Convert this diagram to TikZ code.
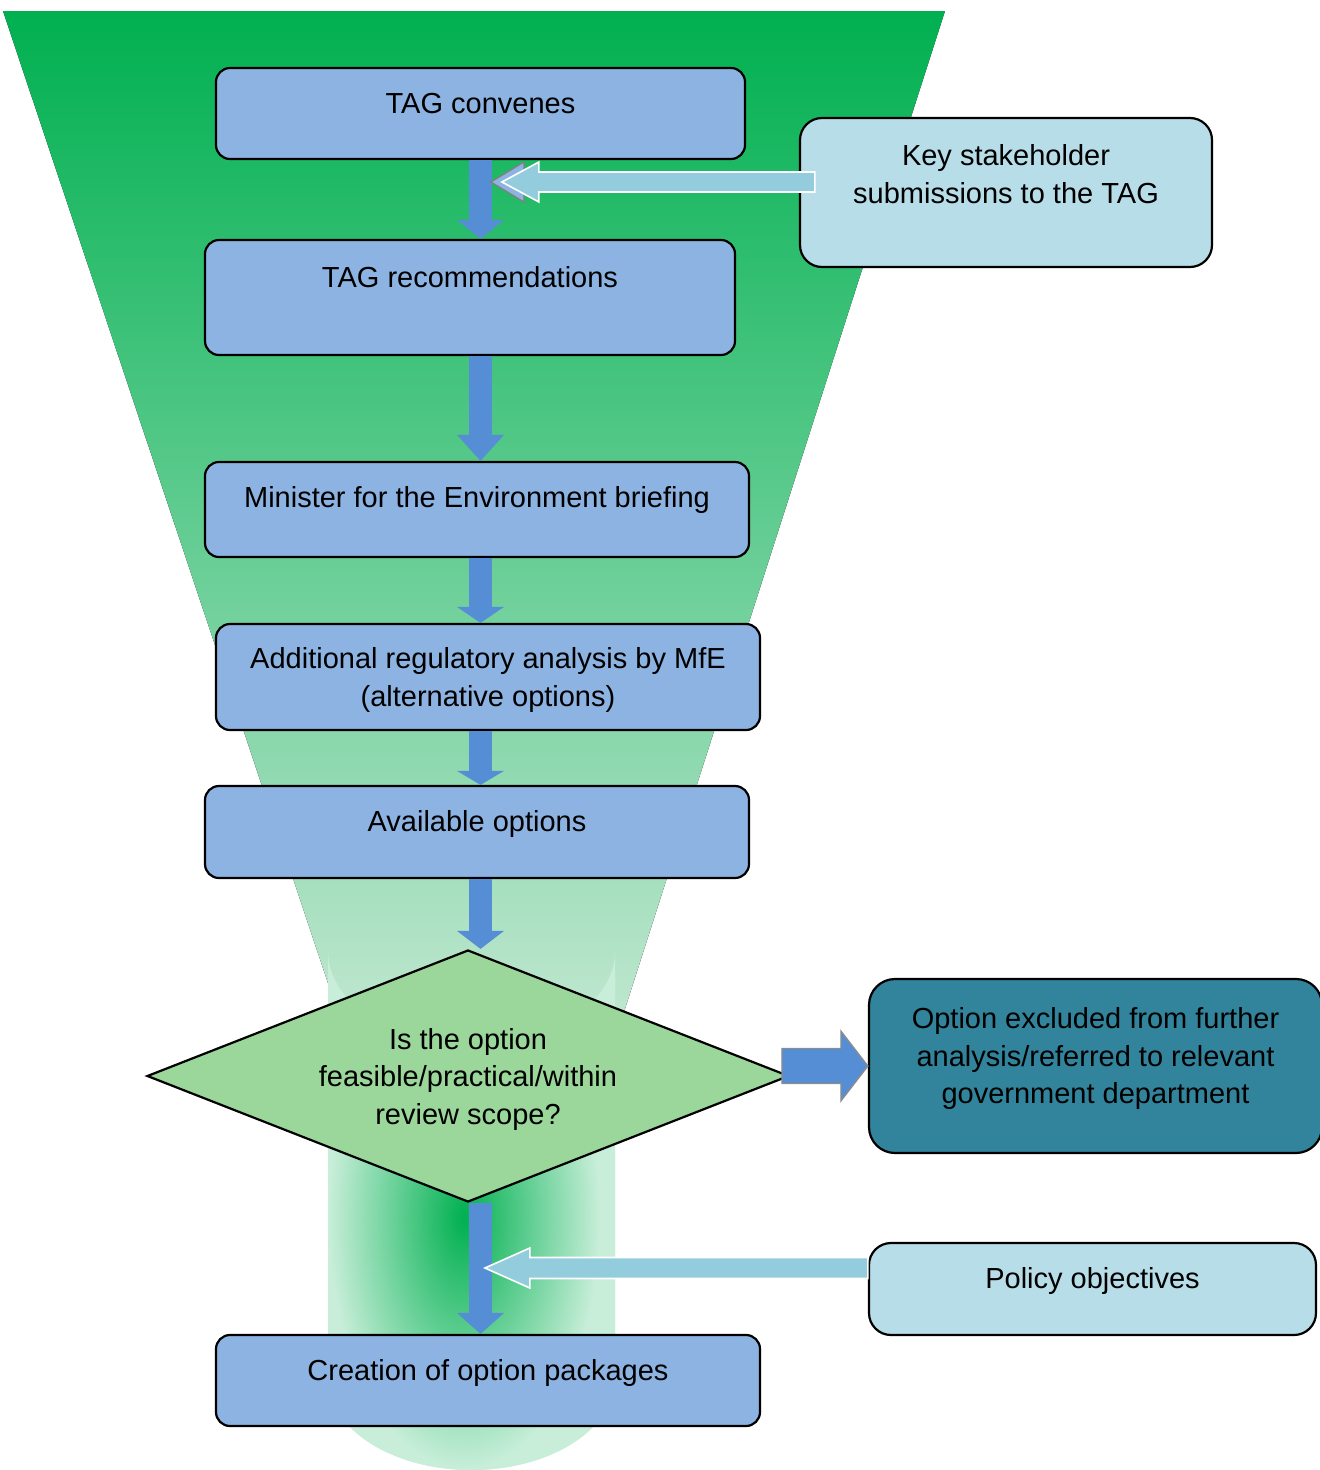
\documentclass[tikz,border=0pt]{standalone}
\usepackage{fontspec}
\setmainfont{Liberation Sans}
\usetikzlibrary{arrows.meta,positioning,calc,shapes.geometric}
\definecolor{Leaf}{HTML}{00B050}
\definecolor{Mist}{HTML}{C3E8D2}
\definecolor{Mint}{HTML}{C8EED9}
\definecolor{Sky}{HTML}{8DB3E2}
\definecolor{Flow}{HTML}{558ED5}
\definecolor{Aqua}{HTML}{B7DDE8}
\definecolor{Pipe}{HTML}{93CDDD}
\definecolor{Sage}{HTML}{9BD69B}
\definecolor{Deep}{HTML}{31849B}
\pgfdeclareradialshading{glow}{\pgfpoint{0bp}{0bp}}{color(0bp)=(Leaf); color(17bp)=(Mint); color(50bp)=(Mint)}
\tikzset{stepbox/.style={draw=black,line width=2.2pt,fill=Sky,rounded corners=14pt,align=center,font=\fontsize{29}{37.5}\selectfont,text height=21pt,inner sep=0pt},twoline/.style={text height=58.5pt},threeline/.style={text height=96pt},sidebox/.style={stepbox,fill=Aqua,rounded corners=22pt},downflow/.style={draw=Flow,line width=23pt,-{Triangle[length=#1 0 0,width=47pt 0 0,line width=0pt]}},inflow/.style={fill=Pipe,draw=white,line width=1.6pt},outflow/.style={fill=Flow,draw=gray!90,line width=1.3pt}}

\begin{document}
\begin{tikzpicture}[x=1pt,y=-1pt]
\useasboundingbox (0,0) rectangle (1320,1470);
\fill[top color=Leaf,bottom color=Mist] (3,11) -- (945,11) -- (615,1040) -- (347,1040) -- cycle;
\begin{scope}
\clip (328,952) -- (328,1378) arc[start angle=180,end angle=0,x radius=143.5,y radius=92] -- (615,952) arc[start angle=0,end angle=180,x radius=143.5,y radius=92] -- cycle;
\fill[Mint] (300,900) rectangle (650,1480);
\begin{scope}[shift={(464,1218)},yscale=1.85]
\shade[shading=glow] (0,0) circle[radius=200];
\end{scope}
\end{scope}
\node[stepbox,minimum width=529pt,minimum height=91pt,text depth=21pt] (tagc) at (480.5,113.5) {TAG convenes};
\node[stepbox,minimum width=530pt,minimum height=115pt,text depth=41pt] (tagr) at (470,297.5) {TAG recommendations};
\node[stepbox,minimum width=544pt,minimum height=95pt,text depth=25pt] (mini) at (477,509.5) {Minister for the Environment briefing};
\node[stepbox,twoline,minimum width=544pt,minimum height=106pt,text depth=0pt] (addl) at (488,677) {Additional regulatory analysis by MfE\\(alternative options)};
\node[stepbox,minimum width=544pt,minimum height=92pt,text depth=22pt] (avail) at (477,832) {Available options};
\node[stepbox,threeline,shape=diamond,fill=Sage,rounded corners=0pt,aspect=2.55,minimum width=642pt,minimum height=252pt,text depth=0pt] (dia) at (468,1076) {Is the option\\feasible/practical/within\\review scope?};
\node[stepbox,minimum width=544pt,minimum height=91pt,text depth=21pt] (crea) at (488,1380.5) {Creation of option packages};
\node[sidebox,twoline,minimum width=412pt,minimum height=149pt,text depth=37pt] (keys) at (1006,192.5) {Key stakeholder\\submissions to the TAG};
\node[sidebox,threeline,fill=Deep,rounded corners=26pt,minimum width=453pt,minimum height=174pt,text depth=21pt] (excl) at (1095.5,1066) {Option excluded from further\\analysis/referred to relevant\\government department};
\node[sidebox,minimum width=447pt,minimum height=92pt,text depth=22pt] (poli) at (1092.5,1289) {Policy objectives};
\coordinate (axis) at (480.5,0);
\draw[downflow=19pt] (tagc.south -| axis) -- (tagr.north -| axis);
\draw[downflow=26pt] (tagr.south -| axis) -- (mini.north -| axis);
\draw[downflow=16pt] (mini.south -| axis) -- (addl.north -| axis);
\draw[downflow=14pt] (addl.south -| axis) -- (avail.north -| axis);
\draw[downflow=18pt] (avail.south -| axis) -- (dia.north -| axis);
\draw[downflow=21pt] (dia.south -| axis) -- (crea.north -| axis);
\coordinate (kstip) at ($(keys.west)+(-297,-10.5)$);
\draw[fill=Sky,draw=gray,line width=1.3pt] ($(kstip)+(-11,0)$) -- ++(33,-20) -- ++(0,40) -- cycle;
\draw[inflow] (kstip) -- ++(37,-20) -- ++(0,10) -- ++(276,0) -- ++(0,20) -- ++(-276,0) -- ++(0,10) -- cycle;
\coordinate (potip) at ($(poli.west)+(-383,-21)$);
\draw[inflow] (potip) -- ++(45,-20) -- ++(0,9.5) -- ++(338,0) -- ++(0,21) -- ++(-338,0) -- ++(0,9.5) -- cycle;
\draw[outflow] (excl.west) -- ++(-27,-35) -- ++(0,17.5) -- ++(-59,0) -- ++(0,35) -- ++(59,0) -- ++(0,17.5) -- cycle;
\end{tikzpicture}
\end{document}
